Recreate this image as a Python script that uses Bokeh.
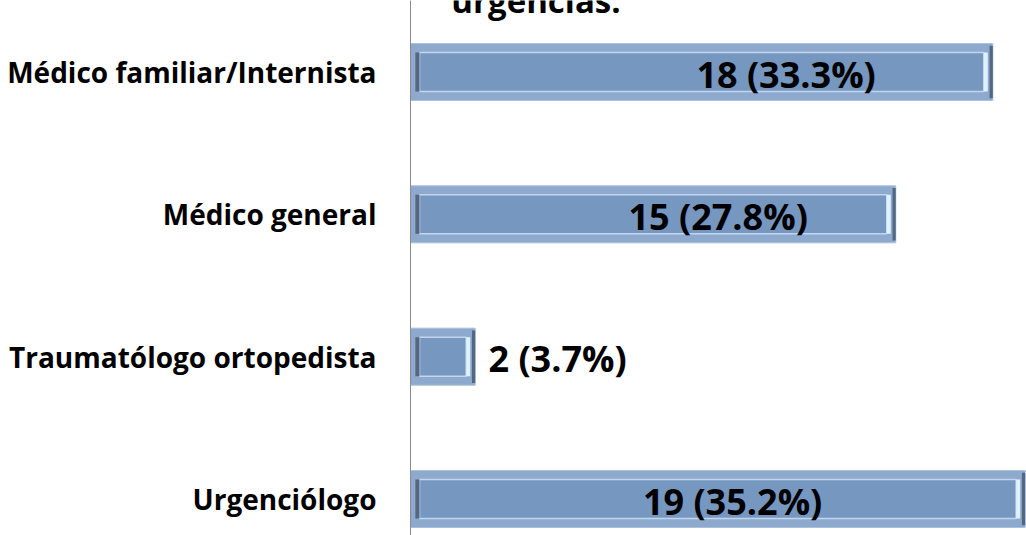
from bokeh.plotting import figure
from bokeh.models import ColumnDataSource, FixedTicker, Label, Range1d
from bokeh.core.properties import value
from bokeh.embed import file_html
from bokeh.resources import INLINE

# ---- data (top to bottom as in the chart) ----
categories = ["Médico familiar/Internista", "Médico general", "Traumatólogo ortopedista", "Urgenciólogo"]
counts = [18, 15, 2, 19]
percents = [33.3, 27.8, 3.7, 35.2]
title_tail = "urgencias."

# ---- styling ----
FONT = "Open Sans"
W, H = 1026, 535
LEFT = 410
PX_PER_UNIT = 32.35
TOP_CENTER = 71.5
BOTTOM_CENTER = 498.5
BAR_PX = 57
INSET_PX = 9

n = len(categories)
SPACING = (BOTTOM_CENTER - TOP_CENTER) / (n - 1)
x_end = (W - LEFT) / PX_PER_UNIT
ypos = [n - 1 - i for i in range(n)]
y_end = (n - 1) + TOP_CENTER / SPACING
y_start = -(H - BOTTOM_CENTER) / SPACING
bar_h = BAR_PX / SPACING
inner_h = (BAR_PX - 2 * INSET_PX) / SPACING
inset = INSET_PX / PX_PER_UNIT
strip = 4 / PX_PER_UNIT

labels = [f"{c} ({p}%)" for c, p in zip(counts, percents)]
# inside labels sit at a fraction of bar length, short bars get an outside label
label_frac = [0.645, 0.634, None, 0.524]
inside = [f is not None for f in label_frac]

src = ColumnDataSource(dict(
    y=ypos,
    v=counts,
    zero=[0] * n,
    in_l=[inset] * n,
    in_r=[c - inset for c in counts],
    hl_l=[c - inset for c in counts],
    hl_r=[c - inset + strip for c in counts],
    dk_l=[c - 0.1 for c in counts],
    dkl_l=[0.15] * n,
    dkl_r=[inset] * n,
))

p = figure(width=W, height=H, output_backend="svg", toolbar_location=None,
           x_range=Range1d(0, x_end), y_range=Range1d(y_start, y_end),
           min_border_left=LEFT, min_border_right=0, min_border_top=0, min_border_bottom=0)
p.outline_line_color = None
p.xgrid.visible = False
p.ygrid.visible = False
p.xaxis.visible = False
p.background_fill_color = "white"
p.border_fill_color = "white"

# outer bevel frame
p.hbar(y="y", left="zero", right="v", height=bar_h, source=src,
       fill_color="#8DA9CE", line_color="#A9C0DE", line_width=1)
# inner face
p.hbar(y="y", left="in_l", right="in_r", height=inner_h, source=src,
       fill_color="#7697C0", line_color="#C3D5EC", line_width=1.5)
# right light strip
p.hbar(y="y", left="hl_l", right="hl_r", height=inner_h, source=src,
       fill_color="#DDF3FF", line_color=None)
# right dark edge
p.hbar(y="y", left="dk_l", right="v", height=bar_h * 0.92, source=src,
       fill_color="#556680", line_color=None)
# left dark edge
p.hbar(y="y", left="dkl_l", right="dkl_r", height=inner_h, source=src,
       fill_color="#556680", line_color=None)

# value labels
in_src = ColumnDataSource(dict(
    x=[c * f for c, f, i in zip(counts, label_frac, inside) if i],
    y=[y for y, i in zip(ypos, inside) if i],
    t=[t for t, i in zip(labels, inside) if i]))
out_src = ColumnDataSource(dict(
    x=[c + 0.41 for c, i in zip(counts, inside) if not i],
    y=[y for y, i in zip(ypos, inside) if not i],
    t=[t for t, i in zip(labels, inside) if not i]))
common = dict(text_font=value(FONT), text_font_style="bold", text_font_size="36px",
              text_color="black", text_baseline="middle", y_offset=2)
p.text(x="x", y="y", text="t", source=in_src, text_align="center", **common)
p.text(x="x", y="y", text="t", source=out_src, text_align="left", **common)

# y axis with category labels
p.yaxis.ticker = FixedTicker(ticks=ypos)
p.yaxis.major_label_overrides = {y: c for y, c in zip(ypos, categories)}
p.yaxis.major_tick_line_color = None
p.yaxis.minor_tick_line_color = None
p.yaxis.axis_line_color = "#8C8C8C"
p.yaxis.axis_line_width = 1
p.yaxis.major_label_standoff = 28
p.yaxis.major_label_text_font = FONT
p.yaxis.major_label_text_font_style = "bold"
p.yaxis.major_label_text_font_size = "28px"
p.yaxis.major_label_text_color = "black"

# clipped title (only its last line is visible)
p.add_layout(Label(x=(535.5 - LEFT) / PX_PER_UNIT, y=y_end, text=title_tail,
                   text_align="center", text_baseline="alphabetic",
                   text_font=FONT, text_font_style="bold", text_font_size="33px",
                   text_color="black"))

open("out.html", "w").write(file_html(p, INLINE))
